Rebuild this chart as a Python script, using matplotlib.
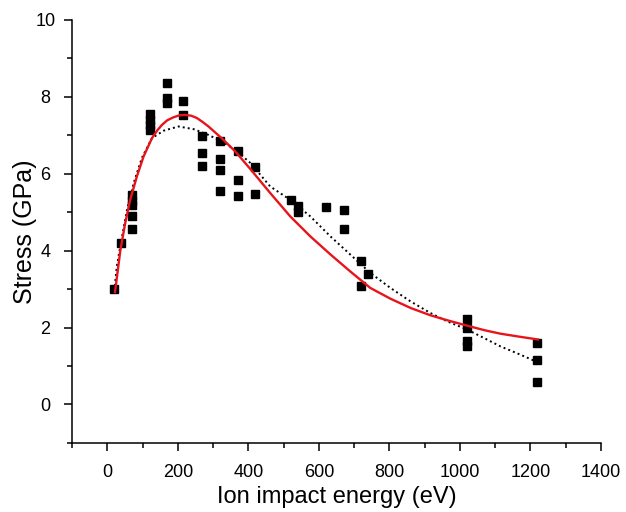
import matplotlib
matplotlib.use("Agg")
import matplotlib.pyplot as plt
from matplotlib.ticker import MultipleLocator

plt.rcParams['font.family'] = ['Liberation Sans', 'DejaVu Sans']

# Measured data points
energy = [20, 40, 70, 70, 70, 70, 70,
          120, 120, 120, 120,
          170, 170, 170, 215, 215,
          270, 270, 270, 320, 320, 320, 320,
          370, 370, 370, 420, 420,
          520, 540, 540, 620, 670, 670,
          720, 720, 740,
          1020, 1020, 1020, 1020,
          1220, 1220, 1220]
stress = [3.0, 4.2, 5.45, 5.3, 5.2, 4.9, 4.57,
          7.55, 7.4, 7.27, 7.14,
          8.37, 7.97, 7.84, 7.88, 7.53,
          6.97, 6.55, 6.21, 6.84, 6.38, 6.10, 5.56,
          6.58, 5.83, 5.43, 6.17, 5.48,
          5.32, 5.17, 5.0, 5.13, 5.06, 4.57,
          3.74, 3.07, 3.38,
          2.21, 2.0, 1.64, 1.53,
          1.60, 1.15, 0.58]

# Red fit curve
red_e = [22, 37, 51, 65, 84, 103, 127, 142, 155, 170, 188, 205, 221, 238, 254,
         270, 287, 325, 363, 406, 462, 519, 576, 633, 689, 746, 803, 860,
         916, 964, 1020, 1070, 1115, 1170, 1221]
red_s = [2.92, 4.0, 4.72, 5.32, 5.93, 6.45, 6.93, 7.13, 7.27, 7.39, 7.47, 7.52,
         7.53, 7.51, 7.45, 7.35, 7.23, 6.92, 6.58, 6.12, 5.50, 4.89, 4.37,
         3.90, 3.46, 3.03, 2.75, 2.51, 2.32, 2.19, 2.05, 1.93, 1.84, 1.76, 1.69]

# Black dotted fit curve
dot_e = [20, 27, 42, 56, 75, 98, 127, 160, 202, 245, 287, 325, 363, 406,
         462, 519, 576, 633, 689, 746, 803, 860, 916, 964, 1020, 1070,
         1115, 1170, 1220]
dot_s = [2.95, 3.59, 4.37, 5.06, 5.76, 6.41, 6.93, 7.12, 7.23, 7.16, 7.01, 6.84,
         6.62, 6.28, 5.67, 5.32, 4.89, 4.37, 3.90, 3.42, 3.03, 2.68, 2.38,
         2.16, 1.95, 1.72, 1.51, 1.30, 1.10]

fig = plt.figure(figsize=(6.26, 5.12), dpi=100)
ax = fig.add_axes([0.115, 0.135, 0.845, 0.826])

ax.plot(energy, stress, 's', color='black', markersize=6.3, zorder=3)
ax.plot(dot_e, dot_s, linestyle=(0, (1, 1.6)), color='black', linewidth=1.4, zorder=2)
ax.plot(red_e, red_s, '-', color='#e8141c', linewidth=1.7, zorder=4)

ax.set_xlim(-100, 1400)
ax.set_ylim(-1, 10)
ax.xaxis.set_major_locator(MultipleLocator(200))
ax.xaxis.set_minor_locator(MultipleLocator(100))
ax.yaxis.set_major_locator(MultipleLocator(2))
ax.yaxis.set_minor_locator(MultipleLocator(1))

for s in ['top', 'right']:
    ax.spines[s].set_visible(False)
for s in ['left', 'bottom']:
    ax.spines[s].set_linewidth(1.1)

ax.tick_params(which='major', direction='out', length=6, width=1.1, labelsize=13)
ax.tick_params(which='minor', direction='out', length=3.5, width=1.1)
ax.tick_params(axis='x', which='major', pad=9)
ax.tick_params(axis='y', which='major', pad=13)
for lab in ax.get_yticklabels():
    lab.set_horizontalalignment('center')

ax.set_xlabel('Ion impact energy (eV)', fontsize=17, labelpad=4)
ax.set_ylabel('Stress (GPa)', fontsize=18, labelpad=-1)

fig.savefig('out.png', dpi=100)
